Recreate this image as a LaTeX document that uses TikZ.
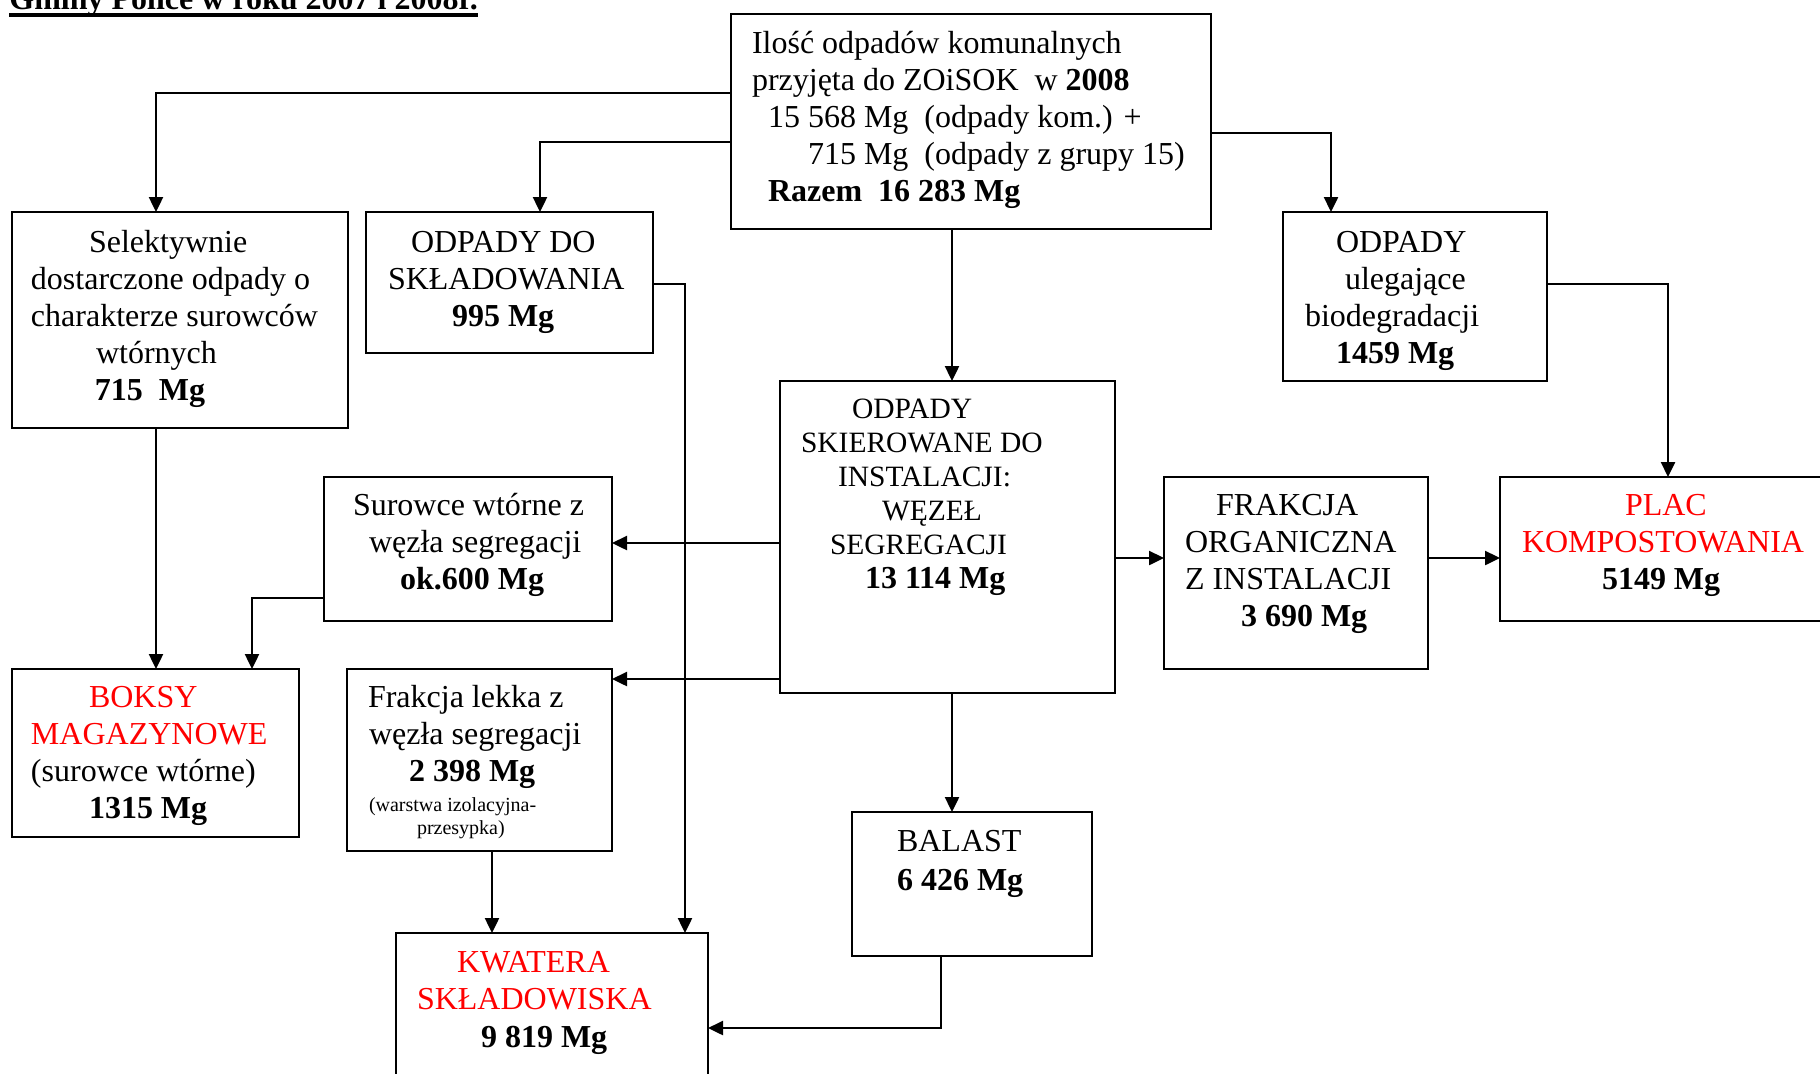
\documentclass[tikz,border=0pt]{standalone}
\usepackage{fontspec}
\setmainfont{Liberation Serif}
\usetikzlibrary{arrows.meta,calc}
\definecolor{txtred}{RGB}{255,0,0}
\begin{document}
\begin{tikzpicture}[x=0.5pt,y=-0.5pt,
  boxn/.style={draw, line width=1.1pt, anchor=north west, inner sep=0pt, outer sep=0pt},
  txt/.style={anchor=north west, inner sep=0pt, outer sep=0pt, align=left, font=\fontsize{16pt}{18.5pt}\selectfont},
  txts/.style={anchor=north west, inner sep=0pt, outer sep=0pt, align=left, font=\fontsize{14.75pt}{17pt}\selectfont},
  txtxs/.style={anchor=north west, inner sep=0pt, outer sep=0pt, align=left, font=\fontsize{10pt}{11.75pt}\selectfont},
  arr/.style={line width=1.2pt, -{Triangle[length=7.5pt,width=7pt]}},
  ln/.style={line width=1.2pt}]
\useasboundingbox (0,0) rectangle (1820,1073);
\clip (0,0) rectangle (1820,1073);

% heading (partly cut off at the top, as in the reference)
\node[anchor=base west, inner sep=0pt, font=\bfseries\fontsize{16pt}{18.5pt}\selectfont] (head) at (9,9) {Gminy Police w roku 2007 i 2008r.};
\draw[line width=2pt] ($(head.base west)+(0,6)$) -- ($(head.base east)+(0,6)$);

% boxes
\node[boxn, minimum width=240pt, minimum height=107.5pt] (top) at (731,14) {};
\node[boxn, minimum width=168pt, minimum height=108pt] (sel) at (12,212) {};
\node[boxn, minimum width=143.5pt, minimum height=70.5pt] (sk) at (366,212) {};
\node[boxn, minimum width=132pt, minimum height=84.5pt] (bio) at (1283,212) {};
\node[boxn, minimum width=167.5pt, minimum height=156pt] (inst) at (780,381) {};
\node[boxn, minimum width=144pt, minimum height=72pt] (sur) at (324,477) {};
\node[boxn, minimum width=132pt, minimum height=96pt] (fo) at (1164,477) {};
\node[boxn, minimum width=180pt, minimum height=72pt] (plac) at (1500,477) {};
\node[boxn, minimum width=143.5pt, minimum height=84pt] (boks) at (12,669) {};
\node[boxn, minimum width=132.5pt, minimum height=91pt] (fl) at (347,669) {};
\node[boxn, minimum width=120pt, minimum height=72pt] (bal) at (852,812) {};
\node[boxn, minimum width=156pt, minimum height=80pt] (kw) at (396,933) {};

% texts
\node[txt] (ttop) at (752,27) {\rule{0pt}{13pt}Ilość odpadów komunalnych\\
  przyjęta do ZOiSOK\ \ w \textbf{2008}\\
  \hspace*{8pt}15 568 Mg\ \ (odpady kom.) +\\
  \hspace*{28pt}715 Mg\ \ (odpady z grupy 15)\\
  \hspace*{8pt}\textbf{Razem\ \ 16 283 Mg}};
\node[txt] (tsel) at (31,226) {\rule{0pt}{13pt}\hspace*{29pt}Selektywnie\\
  dostarczone odpady o\\
  charakterze surowców\\
  \hspace*{32.5pt}wtórnych\\
  \hspace*{32pt}\textbf{715\ \ Mg}};
\node[txt] (tsk) at (388,226) {\rule{0pt}{13pt}\hspace*{11.5pt}ODPADY DO\\
  SKŁADOWANIA\\
  \hspace*{32pt}\textbf{995 Mg}};
\node[txt] (tbio) at (1305,226) {\rule{0pt}{13pt}\hspace*{15.5pt}ODPADY\\
  \hspace*{20pt}ulegające\\
  biodegradacji\\
  \hspace*{15.5pt}\textbf{1459 Mg}};
\node[txts] (tinst) at (801,394) {\rule{0pt}{12pt}\hspace*{25.5pt}ODPADY\\
  SKIEROWANE DO\\
  \hspace*{18.5pt}INSTALACJI:\\
  \hspace*{40.5pt}WĘZEŁ\\
  \hspace*{14.5pt}SEGREGACJI\\
  \hspace*{32pt}{\fontsize{16pt}{17pt}\selectfont\textbf{13 114 Mg}}};
\node[txt] (tsur) at (353,489) {\rule{0pt}{13pt}Surowce wtórne z\\
  \hspace*{8pt}węzła segregacji\\
  \hspace*{23.5pt}\textbf{ok.600 Mg}};
\node[txt] (tfo) at (1185,489) {\rule{0pt}{13pt}\hspace*{15.5pt}FRAKCJA\\
  ORGANICZNA\\
  Z INSTALACJI\\
  \hspace*{28pt}\textbf{3 690 Mg}};
\node[txt] (tplac) at (1522,489) {\rule{0pt}{13pt}\hspace*{51.5pt}\textcolor{txtred}{PLAC}\\
  \textcolor{txtred}{KOMPOSTOWANIA}\\
  \hspace*{40pt}\textbf{5149 Mg}};
\node[txt] (tboks) at (31,681) {\rule{0pt}{13pt}\hspace*{29pt}\textcolor{txtred}{BOKSY}\\
  \textcolor{txtred}{MAGAZYNOWE}\\
  (surowce wtórne)\\
  \hspace*{29pt}\textbf{1315 Mg}};
\node[txt] (tfl) at (368,681) {\rule{0pt}{13pt}Frakcja lekka z\\
  \hspace*{0.5pt}węzła segregacji\\
  \hspace*{20.5pt}\textbf{2 398 Mg}};
\node[txtxs] (tfls) at (369,794) {\rule{0pt}{8.5pt}(warstwa izolacyjna-\\
  \hspace*{24pt}przesypka)};
\node[txt, font=\fontsize{16pt}{19.5pt}\selectfont] (tbal) at (897,825) {\rule{0pt}{13pt}BALAST\\
  \textbf{6 426 Mg}};
\node[txt, font=\fontsize{16pt}{18.75pt}\selectfont] (tkw) at (417,946) {\rule{0pt}{13pt}\hspace*{20pt}\textcolor{txtred}{KWATERA}\\
  \textcolor{txtred}{SKŁADOWISKA}\\
  \hspace*{32pt}\textbf{9 819 Mg}};

% helper coordinates
\coordinate (y93) at (0,93);
\coordinate (y142) at (0,142);
\coordinate (y133) at (0,133);
\coordinate (y284) at (0,284);
\coordinate (y543) at (0,543);
\coordinate (y679) at (0,679);
\coordinate (y558) at (0,558);
\coordinate (y598) at (0,598);
\coordinate (y1028) at (0,1028);
\coordinate (x156) at (156,0);
\coordinate (x540) at (540,0);
\coordinate (x1331) at (1331,0);
\coordinate (x952) at (952,0);
\coordinate (x685) at (685,0);
\coordinate (x1668) at (1668,0);
\coordinate (x252) at (252,0);
\coordinate (x492) at (492,0);
\coordinate (x941) at (941,0);

% connectors
\draw[arr] (top.west |- y93) -| (sel.north -| x156);
\draw[arr] (top.west |- y142) -| (sk.north -| x540);
\draw[arr] (top.east |- y133) -| (bio.north -| x1331);
\draw[arr] (top.south -| x952) -- (inst.north -| x952);
\draw[arr] (sk.east |- y284) -| (kw.north -| x685);
\draw[arr] (bio.east |- y284) -| (plac.north -| x1668);
\draw[arr] (inst.west |- y543) -- (sur.east |- y543);
\draw[arr] (inst.west |- y679) -- (fl.east |- y679);
\draw[arr] (inst.east |- y558) -- (fo.west |- y558);
\draw[arr] (fo.east |- y558) -- (plac.west |- y558);
\draw[arr] (sel.south -| x156) -- (boks.north -| x156);
\draw[arr] (sur.west |- y598) -| (boks.north -| x252);
\draw[arr] (inst.south -| x952) -- (bal.north -| x952);
\draw[arr] (fl.south -| x492) -- (kw.north -| x492);
\draw[arr] (bal.south -| x941) |- (kw.east |- y1028);
\end{tikzpicture}
\end{document}
